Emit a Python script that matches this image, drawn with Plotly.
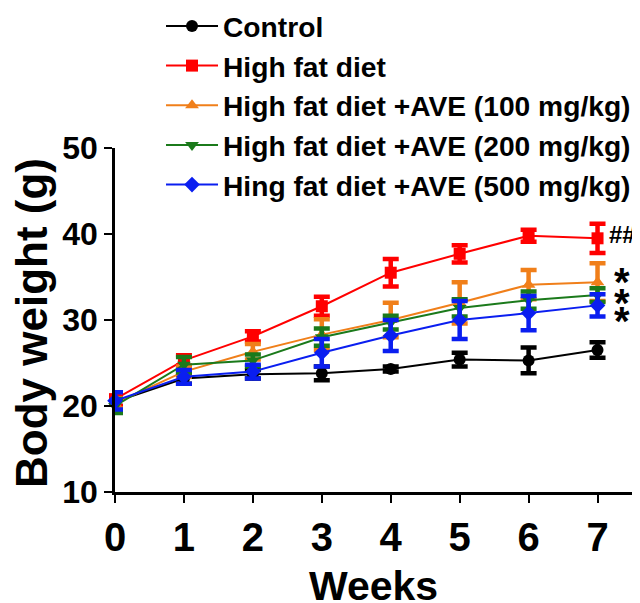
import plotly.graph_objects as go

weeks = [0, 1, 2, 3, 4, 5, 6, 7]
series_names = ["Control", "High fat diet", "High fat diet +AVE (100 mg/kg)",
                "High fat diet +AVE (200 mg/kg)", "Hing fat diet +AVE (500 mg/kg)"]
control = [20.5, 23.2, 23.7, 23.8, 24.3, 25.4, 25.3, 26.5]
control_err = [0.5, 0.6, 0.5, 0.8, 0.3, 0.8, 1.5, 0.9]
hfd = [20.8, 25.3, 28.1, 31.6, 35.5, 37.7, 39.8, 39.5]
hfd_err = [0.8, 0.6, 0.6, 1.1, 1.6, 1.0, 0.7, 1.7]
ave100 = [20.3, 24.0, 26.3, 28.3, 30.0, 32.0, 34.1, 34.4]
ave100_err = [0.6, 0.6, 0.9, 1.8, 2.0, 2.4, 1.7, 2.2]
ave200 = [20.0, 24.8, 25.3, 28.0, 29.7, 31.4, 32.3, 32.9]
ave200_err = [0.8, 0.9, 0.7, 1.0, 0.8, 1.0, 1.0, 0.8]
ave500 = [20.6, 23.4, 24.0, 26.2, 28.2, 30.0, 30.8, 31.7]
ave500_err = [1.0, 0.8, 0.8, 1.6, 1.8, 2.2, 2.0, 1.3]
y_ticks = [10, 20, 30, 40, 50]
marks = ["##", "*", "*", "*"]
mark_y = [40.0, 35.0, 32.6, 30.5]

colors = ["#000000", "#FF0000", "#F07F1A", "#1B7A1B", "#0A1EF0"]
symbols = ["circle", "square", "triangle-up", "triangle-down", "diamond"]
values = [control, hfd, ave100, ave200, ave500]
errors = [control_err, hfd_err, ave100_err, ave200_err, ave500_err]

FONT = "Liberation Sans, Arial"

fig = go.Figure()
for name, v, e, c, s in zip(series_names, values, errors, colors, symbols):
    fig.add_trace(go.Scatter(
        x=weeks, y=v, name=name, mode="lines+markers",
        line=dict(color=c, width=2),
        marker=dict(symbol=s, size=12, color=c),
        error_y=dict(type="data", array=e, visible=True, color=c, thickness=4.5, width=8),
        cliponaxis=False,
    ))

for m, yv in zip(marks, mark_y):
    fig.add_annotation(x=7, y=yv, text=m, showarrow=False,
                       xanchor="left", xshift=9 if m == "##" else 14,
                       yshift=0 if m == "##" else -5,
                       font=dict(size=24 if m == "##" else 40, color="black",
                                 family=FONT, weight="bold"))

# axis titles as annotations
fig.add_annotation(xref="paper", yref="paper", x=0.5, y=0, yshift=-94,
                   text="Weeks", showarrow=False, xanchor="center", yanchor="middle",
                   font=dict(size=41, weight="bold", family=FONT, color="black"))
fig.add_annotation(xref="paper", yref="paper", x=0, y=0.5, xshift=-84, yshift=-3,
                   text="Body weight (g)", showarrow=False, textangle=-90,
                   xanchor="center", yanchor="middle",
                   font=dict(size=44, weight="bold", family=FONT, color="black"))

fig.update_layout(
    width=632, height=595,
    margin=dict(l=107, r=7.5, t=140, b=111, autoexpand=False),
    paper_bgcolor="white", plot_bgcolor="white",
    font=dict(family=FONT, color="black"),
    showlegend=True,
    legend=dict(xref="paper", yref="paper", x=0.089, y=1.427,
                xanchor="left", yanchor="top",
                font=dict(size=28.2, color="black", family=FONT, weight="bold"),
                bgcolor="rgba(0,0,0,0)", itemwidth=52, tracegroupgap=0),
)
fig.update_xaxes(range=[0, 7.5], tickvals=weeks,
                 showline=True, linecolor="black", linewidth=2.5,
                 ticks="outside", ticklen=8, tickwidth=2, tickcolor="black",
                 showgrid=False, zeroline=False, automargin=False,
                 tickfont=dict(size=40, weight="bold"))
fig.update_yaxes(range=[10, 50], tickvals=y_ticks,
                 showline=True, linecolor="black", linewidth=2.5,
                 ticks="outside", ticklen=8, tickwidth=2, tickcolor="black",
                 showgrid=False, zeroline=False, automargin=False,
                 tickfont=dict(size=32, weight="bold"))

fig.write_html("out.html")
